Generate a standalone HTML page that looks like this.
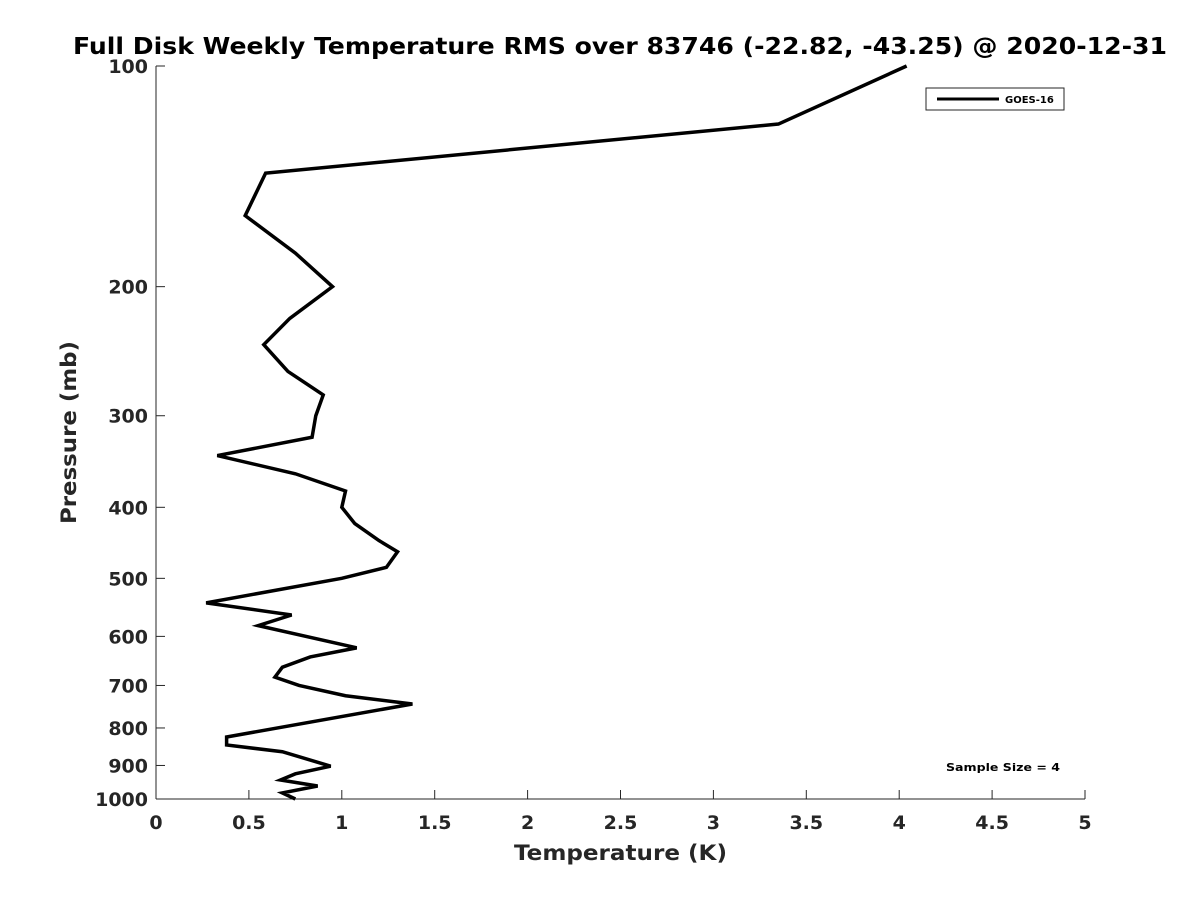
<!DOCTYPE html>
<html><head><meta charset="utf-8"><style>body{margin:0;background:#fff}svg{display:block;font-family:"DejaVu Sans","Liberation Sans",sans-serif}</style></head>
<body>
<svg id="c" width="1200" height="900"></svg>
<script>
const temps=[4.04,3.35,0.59,0.48,0.75,0.95,0.72,0.58,0.71,0.90,0.86,0.84,0.33,0.75,1.02,1.00,1.07,1.20,1.30,1.24,1.00,0.27,0.73,0.55,1.08,0.83,0.68,0.64,0.77,1.02,1.38,0.38,0.38,0.68,0.94,0.75,0.67,0.87,0.68,0.75];
const pressures=[100,120,140,160,180,200,221,240,261,281,300,321,340,360,380,400,421,444,460,483,500,540,561,580,622,640,661,682,700,723,742,823,844,862,902,924,942,960,981,1000];
const xTicks=[0,0.5,1,1.5,2,2.5,3,3.5,4,4.5,5];
const xTickLabels=["0","0.5","1","1.5","2","2.5","3","3.5","4","4.5","5"];
const yTicks=[100,200,300,400,500,600,700,800,900,1000];
const NS="http://www.w3.org/2000/svg",svg=document.getElementById('c');
const L=156,R=1085,T=66,B=799;
const X=v=>L+(v-0)/(5-0)*(R-L);
const Y=p=>T+Math.log10(p/100)*(B-T);
function mk(t,a,txt){const e=document.createElementNS(NS,t);for(const k in a)e.setAttribute(k,a[k]);if(txt!=null)e.textContent=txt;svg.appendChild(e);return e;}
let e;
e=mk('line',{x1:L,y1:B,x2:R,y2:B,stroke:'#262626','stroke-width':1});

e=mk('line',{x1:L,y1:T,x2:L,y2:B,stroke:'#262626','stroke-width':1});

xTicks.forEach((v,i)=>{
 e=mk('line',{x1:X(v),y1:B,x2:X(v),y2:B-9,stroke:'#262626'});
 
 e=mk('text',{x:X(v),y:B+30,'text-anchor':'middle','font-size':19,'font-weight':'bold',fill:'#262626'},xTickLabels[i]);
 
});
yTicks.forEach(p=>{
 e=mk('line',{x1:L,y1:Y(p),x2:L+9,y2:Y(p),stroke:'#262626'});
 
 e=mk('text',{x:L-8,y:Y(p)+7,'text-anchor':'end','font-size':19,'font-weight':'bold',fill:'#262626'},String(p));
 
});
e=mk('polyline',{points:temps.map((t,i)=>X(t)+','+Y(pressures[i])).join(' '),fill:'none',stroke:'#000','stroke-width':3.5,'stroke-linejoin':'miter'});

e=mk('text',{x:73,y:54,'font-size':23,'font-weight':'bold',textLength:1094,lengthAdjust:'spacingAndGlyphs'},'Full Disk Weekly Temperature RMS over 83746 (-22.82, -43.25) @ 2020-12-31');

e=mk('text',{x:514,y:860,'font-size':21,'font-weight':'bold',fill:'#262626',textLength:213,lengthAdjust:'spacingAndGlyphs'},'Temperature (K)');

e=mk('text',{x:0,y:0,'font-size':21,'font-weight':'bold',fill:'#262626',textLength:183,lengthAdjust:'spacingAndGlyphs',transform:'translate(76 524) rotate(-90)'},'Pressure (mb)');

e=mk('rect',{x:926,y:88,width:138,height:22,fill:'#fff',stroke:'#262626','stroke-width':1});

e=mk('line',{x1:937,y1:99,x2:999,y2:99,stroke:'#000','stroke-width':3});

e=mk('text',{x:1005,y:103,'font-size':10,'font-weight':'bold'},'GOES-16');

e=mk('text',{x:946,y:771,'font-size':11,'font-weight':'bold',textLength:114,lengthAdjust:'spacingAndGlyphs'},'Sample Size = 4');

</script>
</body></html>
